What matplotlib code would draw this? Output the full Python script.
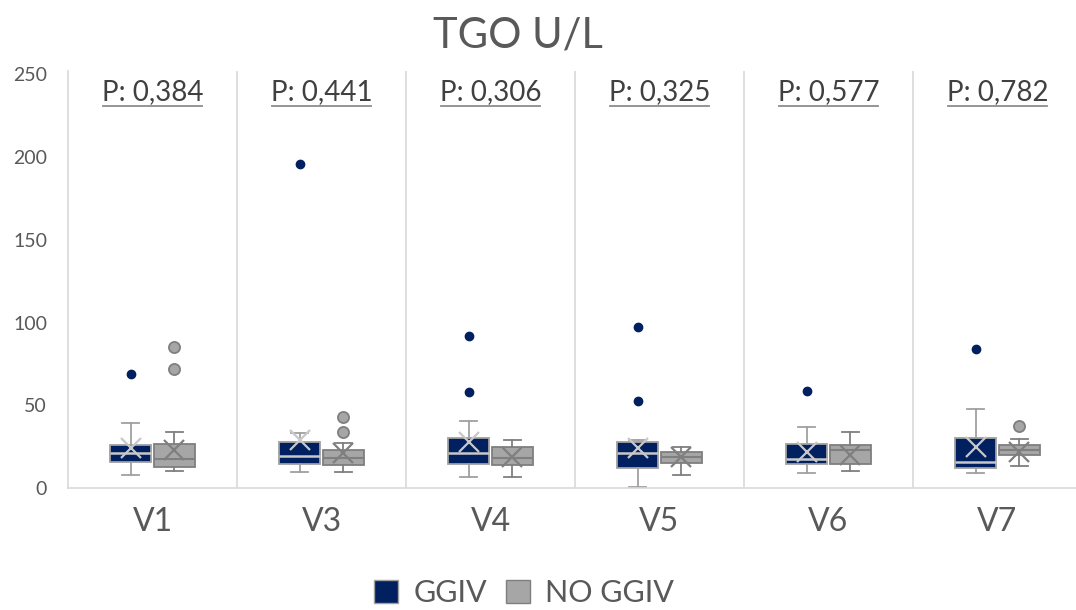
import matplotlib.pyplot as plt
from matplotlib.patches import Patch

# Visits and p-values per visit
groups = ['V1', 'V3', 'V4', 'V5', 'V6', 'V7']
p_values = ['0,384', '0,441', '0,306', '0,325', '0,577', '0,782']

# GGIV box statistics (TGO U/L)
ggiv_q1 = [15.7, 14.5, 14.5, 12, 14.5, 12]
ggiv_med = [21, 19.5, 21, 21, 17.5, 16]
ggiv_q3 = [26, 28, 30, 28, 26.5, 30]
ggiv_lo = [8, 9.5, 6.6, 0.5, 9, 9]
ggiv_hi = [39, 33, 40.5, 29, 37, 47.5]
ggiv_mean = [24, 29, 28, 24, 22, 25]
ggiv_out = [[69], [195.5], [92, 58], [97, 52.5], [58.5], [84]]

# NO GGIV box statistics (TGO U/L)
no_q1 = [12.7, 14, 14, 15, 14.5, 20]
no_med = [17.5, 18, 18, 19, 23, 23]
no_q3 = [26.5, 23, 25, 22, 26, 26]
no_lo = [10, 9.7, 6.6, 8, 10.5, 13]
no_hi = [34, 27, 29, 25, 34, 29.5]
no_mean = [23, 21, 19, 19, 20, 22]
no_out = [[85, 72], [43, 34], [], [], [], [37.5]]

NAVY = '#002060'
GRAY = '#a6a6a6'
TEXT = '#595959'
GRID = '#d9d9d9'

plt.rcParams['font.family'] = ['Lato', 'DejaVu Sans']


def make_stats(q1, med, q3, lo, hi, mean, out):
    return [dict(q1=a, med=b, q3=c, whislo=d, whishi=e, mean=f, fliers=g)
            for a, b, c, d, e, f, g in zip(q1, med, q3, lo, hi, mean, out)]


fig = plt.figure(figsize=(10.76, 6.10), dpi=100)
ax = fig.add_axes([68 / 1076, 0.2, 1014 / 1076, 417 / 610])

centers = [i + 0.5 for i in range(len(groups))]
offset = 0.13
width = 0.24

ggiv_stats = make_stats(ggiv_q1, ggiv_med, ggiv_q3, ggiv_lo, ggiv_hi, ggiv_mean, ggiv_out)
no_stats = make_stats(no_q1, no_med, no_q3, no_lo, no_hi, no_mean, no_out)

ax.bxp(ggiv_stats, positions=[c - offset for c in centers], widths=width,
       patch_artist=True, showmeans=True, capwidths=0.1,
       boxprops=dict(facecolor=NAVY, edgecolor='#a0a0a0', linewidth=1.3),
       medianprops=dict(color='#c8c8c8', linewidth=1.8),
       whiskerprops=dict(color='#a0a0a0', linewidth=1.3),
       capprops=dict(color='#a0a0a0', linewidth=1.3),
       meanprops=dict(marker='x', markersize=15, markeredgecolor='#c8c8c8',
                      markeredgewidth=1.6),
       flierprops=dict(marker='o', markersize=6, markerfacecolor=NAVY,
                       markeredgecolor=NAVY))

ax.bxp(no_stats, positions=[c + offset for c in centers], widths=width,
       patch_artist=True, showmeans=True, capwidths=0.1,
       boxprops=dict(facecolor=GRAY, edgecolor='#7f7f7f', linewidth=1.3),
       medianprops=dict(color='#7f7f7f', linewidth=1.5),
       whiskerprops=dict(color='#7f7f7f', linewidth=1.3),
       capprops=dict(color='#7f7f7f', linewidth=1.3),
       meanprops=dict(marker='x', markersize=15, markeredgecolor='#7f7f7f',
                      markeredgewidth=1.6),
       flierprops=dict(marker='o', markersize=8, markerfacecolor=GRAY,
                       markeredgecolor='#7f7f7f', markeredgewidth=1.3))

# group separators
for i in range(1, len(groups)):
    ax.axvline(i, color=GRID, linewidth=1.2, zorder=0)

# p-value labels with underline
for c, p in zip(centers, p_values):
    ax.text(c, 239, 'P: ' + p, ha='center', va='center', fontsize=20, color='#404040')
    ax.plot([c - 0.295, c + 0.295], [231, 231], color='#8c8c8c', linewidth=1.3)

ax.set_xlim(0, len(groups))
ax.set_ylim(0, 252)
ax.set_xticks(centers)
ax.set_xticklabels(groups, fontsize=23, color=TEXT)
ax.set_yticks([0, 50, 100, 150, 200, 250])
ax.tick_params(axis='y', length=0, pad=15, labelsize=14, labelcolor=TEXT)
ax.tick_params(axis='x', length=0, pad=14)

for side in ['top', 'right']:
    ax.spines[side].set_visible(False)
for side in ['left', 'bottom']:
    ax.spines[side].set_color(GRID)
    ax.spines[side].set_linewidth(1.2)

fig.text(518 / 1076, 1 - 35 / 610, 'TGO U/L', ha='center', va='center',
         fontsize=30, color=TEXT)

handles = [Patch(facecolor=NAVY, edgecolor='#a0a0a0', label='GGIV'),
           Patch(facecolor=GRAY, edgecolor='#7f7f7f', label='NO GGIV')]
fig.legend(handles=handles, loc='center', bbox_to_anchor=(0.487, 0.028), ncol=2,
           frameon=False, fontsize=22, labelcolor=TEXT, handlelength=0.8,
           handleheight=0.8, handletextpad=0.5, columnspacing=0.6)

fig.savefig('out.png', dpi=100)
